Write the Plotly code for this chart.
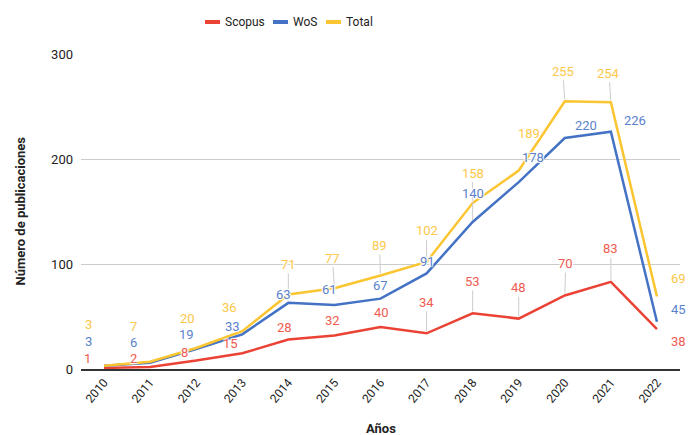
import plotly.graph_objects as go

# ---- data ----
years = list(range(2010, 2023))
scopus = [1, 2, 8, 15, 28, 32, 40, 34, 53, 48, 70, 83, 38]
wos = [3, 6, 19, 33, 63, 61, 67, 91, 140, 178, 220, 226, 45]
total = [3, 7, 20, 36, 71, 77, 89, 102, 158, 189, 255, 254, 69]
y_ticks = [0, 100, 200, 300]
tick_labels = [str(y) for y in years]
series_names = ["Scopus", "WoS", "Total"]

# ---- styles ----
line_colors = {"Scopus": "#ea4335", "WoS": "#4472c4", "Total": "#fbc531"}
label_colors = {"Scopus": "#ef5b50", "WoS": "#5a82cc", "Total": "#fcc74a"}

# data-label placement (pixel offsets from the point) and leader flags
label_dx = {
    "Total": [-16, -17, -9, -13, 0, -2, -1, 0, 0, 10, -2, -2, 22],
    "WoS": [-16, -17, -10, -10, -5, -5, 0, 1, 0, 14, 21, 24, 22],
    "Scopus": [-17, -17, -12, -12, -4, -2, 1, 0, 0, 0, 1, 0, 22],
}
label_dy = {
    "Total": [-41, -35, -30, -24, -30, -30, -30, -31, -30, -37, -30, -29, -18],
    "WoS": [-24, -20, -15, -8, -8, -15, -13, -12, -29, -25, -13, -11, -12],
    "Scopus": [-9, -8, -8, -10, -12, -15, -15, -31, -32, -31, -32, -33, 12],
}
leader = {
    "Total": [0, 0, 0, 0, 1, 1, 1, 1, 1, 0, 1, 1, 0],
    "WoS": [0, 0, 0, 0, 0, 0, 0, 0, 1, 0, 0, 0, 0],
    "Scopus": [0, 0, 0, 0, 0, 0, 0, 1, 1, 1, 1, 1, 0],
}

values = {"Scopus": scopus, "WoS": wos, "Total": total}
FONT = "Roboto"
halo = "white 1px 1px 1px, white -1px -1px 1px, white 1px -1px 1px, white -1px 1px 1px"

FIG_W, FIG_H = 689, 435
L, R, T, B = 81, 680, 54, 369          # plot area in window pixels
W, H = R - L, B - T

fig = go.Figure()
for name in series_names:
    fig.add_trace(go.Scatter(
        x=years, y=values[name], mode="lines", name=name,
        line=dict(color=line_colors[name], width=2.5),
        showlegend=False, hoverinfo="x+y+name",
    ))

annotations = []
for name in ["Total", "WoS", "Scopus"]:
    for i, (yr, v) in enumerate(zip(years, values[name])):
        common = dict(
            x=yr, y=v, xref="x", yref="y", text=str(v),
            font=dict(family=FONT, size=13, color=label_colors[name], shadow=halo),
        )
        if leader[name][i]:
            annotations.append(dict(
                **common, showarrow=True, ax=label_dx[name][i], ay=label_dy[name][i],
                arrowhead=0, arrowwidth=1, arrowcolor="#cccccc", standoff=2,
            ))
        else:
            annotations.append(dict(
                **common, showarrow=False,
                xshift=label_dx[name][i], yshift=-label_dy[name][i],
            ))

# axis titles
annotations.append(dict(
    text="<b>Años</b>", x=0.5, y=0, xref="paper", yref="paper", showarrow=False,
    yanchor="middle", yshift=-59, font=dict(family=FONT, size=13, color="#222222"),
))
annotations.append(dict(
    text="<b>Número de publicaciones</b>", x=0, y=0.5, xref="paper", yref="paper",
    showarrow=False, textangle=-90, xanchor="center", xshift=-61,
    font=dict(family=FONT, size=13, color="#222222"),
))

# custom legend (pixel layout converted to paper coords)
def px(xp):
    return (xp - L) / W
leg_y = (B - 22) / H
legend_items = [("Scopus", 205, 40), ("WoS", 273, 25), ("Total", 326, 27)]
shapes = []
for name, x0, tw in legend_items:
    shapes.append(dict(type="line", xref="paper", yref="paper",
                       x0=px(x0), x1=px(x0 + 15), y0=leg_y, y1=leg_y,
                       line=dict(color=line_colors[name], width=4)))
    annotations.append(dict(
        text=name, x=px(x0 + 18), y=leg_y, xref="paper", yref="paper",
        showarrow=False, xanchor="left", yanchor="middle",
        font=dict(family=FONT, size=12, color="#222222"),
    ))

fig.update_layout(
    width=FIG_W, height=FIG_H,
    margin=dict(l=L, r=FIG_W - R, t=T, b=FIG_H - B),
    paper_bgcolor="white", plot_bgcolor="white",
    font=dict(family=FONT, size=13, color="#333333"),
    xaxis=dict(
        range=[years[0] - 0.5, years[-1] + 0.5],
        tickvals=years, ticktext=tick_labels,
        showgrid=False, showline=True, linecolor="#333333", linewidth=1.5,
        ticks="", tickangle=-50, tickfont=dict(family=FONT, size=12, color="#222222"),
        zeroline=False, fixedrange=True,
    ),
    yaxis=dict(
        range=[0, 300], tickvals=y_ticks, showgrid=True, gridcolor="#cccccc",
        gridwidth=1, zeroline=False, ticks="", ticklabelstandoff=7,
        tickfont=dict(family=FONT, size=13, color="#222222"), fixedrange=True,
    ),
    annotations=annotations, shapes=shapes,
)

fig.write_html(
    "out.html",
    config={"displayModeBar": False},
    post_script="document.body.style.margin='0px';document.body.style.overflow='hidden';",
)
